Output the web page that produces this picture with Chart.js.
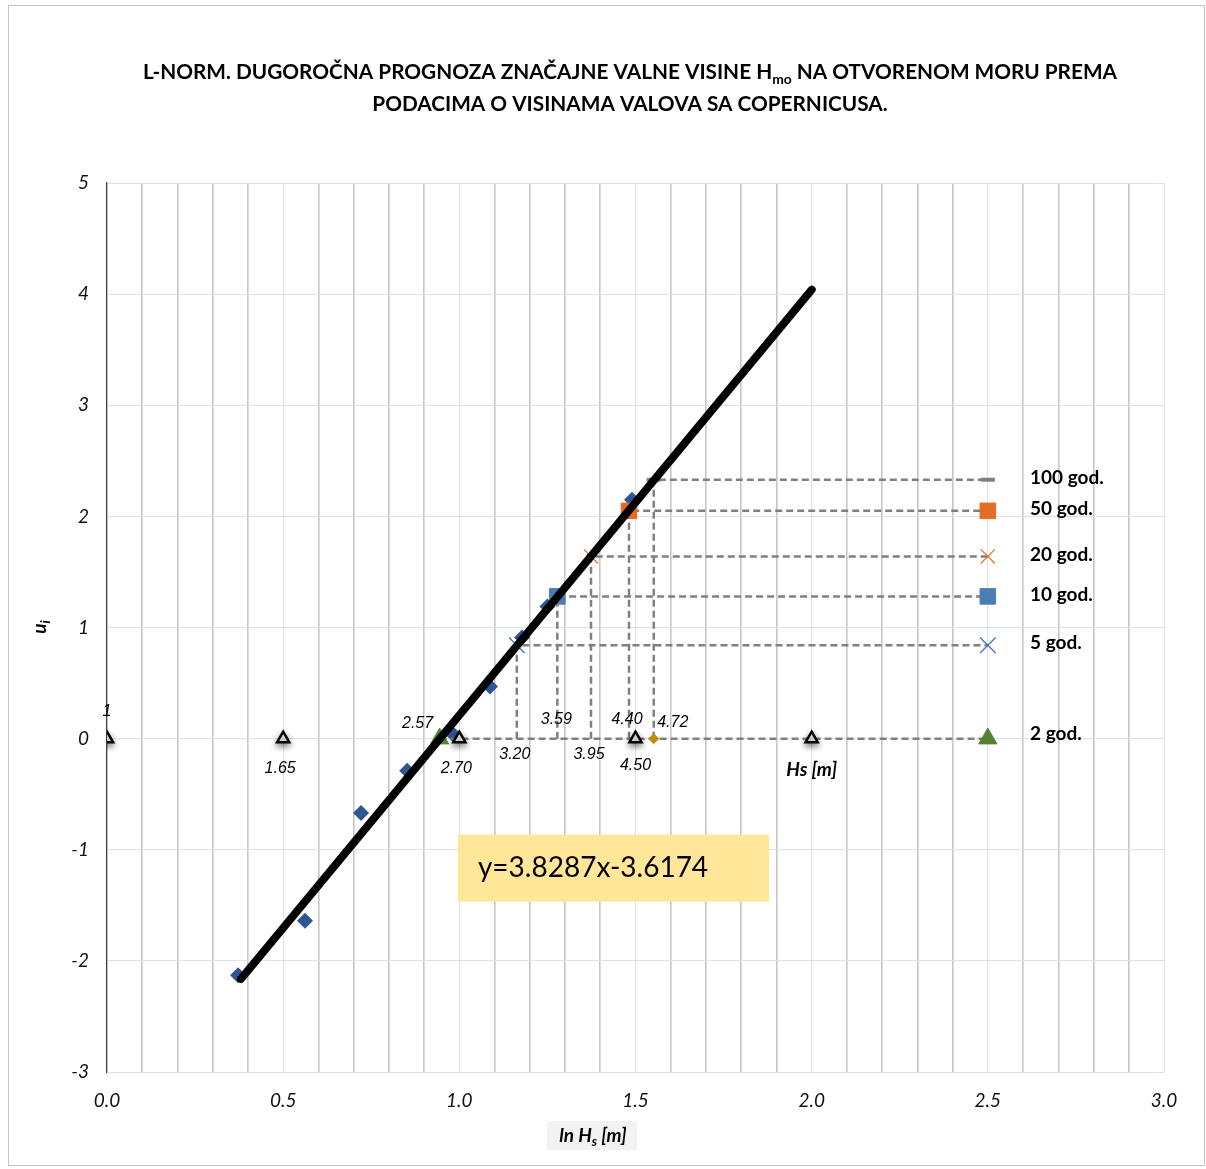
<!DOCTYPE html>
<html>
<head>
<meta charset="utf-8">
<title>L-NORM dugoročna prognoza</title>
<script src="https://cdn.jsdelivr.net/npm/chart.js@4.4.1/dist/chart.umd.min.js"></script>
<style>
  html, body { margin: 0; padding: 0; background: #fff; }
  .chart_box { position: relative; width: 1206px; height: 1169px; }
</style>
</head>
<body>
<div class="chart_box"><canvas id="lnorm-chart"></canvas></div>
<script>
// mjerene točke (ln Hs, u_i)
let lnHs = [0.372, 0.562, 0.721, 0.852, 0.982, 1.087, 1.178, 1.25, 1.49]
let ui = [-2.13, -1.64, -0.67, -0.29, 0.04, 0.47, 0.91, 1.19, 2.15]

// krajevi pravca trenda
let trendX = [0.38, 2.0]
let trendY = [-2.163, 4.040]
let trendText = 'y=3.8287x-3.6174'

// povratni periodi
let periodNames = ['2 god.', '5 god.', '10 god.', '20 god.', '50 god.', '100 god.']
let periodHs = [2.57, 3.20, 3.59, 3.95, 4.40, 4.72]
let periodU = [0, 0.84, 1.28, 1.64, 2.05, 2.33]
let legendX = 2.5

// oznake Hs na osi u = 0
let hsMarkX = [0, 0.5, 1.0, 1.5, 2.0]
let hsMarkLabels = ['1', '1.65', '2.70', '4.50', 'Hs [m]']

let xTickLabels = [0.0, 0.5, 1.0, 1.5, 2.0, 2.5, 3.0]
let yTickLabels = [-3, -2, -1, 0, 1, 2, 3, 4, 5]

let periodStyle = [
    { style: 'triangle', fill: '#548235', line: '#548235', r: 10.5, bw: 1 },
    { style: 'crossRot', fill: '#4472C4', line: '#4472C4', r: 11, bw: 1.3 },
    { style: 'rect', fill: '#4A7DB5', line: '#4A7DB5', r: 11, bw: 1 },
    { style: 'crossRot', fill: '#E0702A', line: '#E0702A', r: 10, bw: 1.2 },
    { style: 'rect', fill: '#E46C24', line: '#E46C24', r: 11, bw: 1 },
    { style: 'line', fill: '#7F7F7F', line: '#7F7F7F', r: 7, bw: 4 }
]
// pomaci natpisa (px) u odnosu na točku na u = 0
let periodLabelOffset = [[-22, -15], [-2, 16], [-1, -19], [-2, 16], [-2, -19], [19, -16]]
let hsMarkOffset = [[0, -27], [-3, 30], [-3, 30], [0, 27], [0, 31]]

let datasets = []
datasets.push({
    label: 'podaci',
    data: lnHs.map((x, i) => ({ x: x, y: ui[i] })),
    pointStyle: 'rectRot', pointRadius: 8,
    pointBackgroundColor: '#2F5597', pointBorderColor: '#2F5597', pointBorderWidth: 0,
    showLine: false, order: 4
})
datasets.push({
    label: 'trend',
    data: trendX.map((x, i) => ({ x: x, y: trendY[i] })),
    showLine: true, borderColor: '#000', borderWidth: 8, borderCapStyle: 'round',
    pointRadius: 0, fill: false, order: 0
})
periodHs.forEach((h, i) => {
    let x = Math.log(h)
    let u = periodU[i]
    let st = periodStyle[i]
    datasets.push({
        label: periodNames[i],
        data: [{ x: x, y: 0 }, { x: x, y: u }, { x: legendX, y: u }],
        showLine: true, fill: false,
        borderColor: '#808080', borderWidth: 2.5, borderDash: [7, 4],
        pointStyle: st.style, pointRadius: [0, st.r, st.r],
        pointBackgroundColor: st.fill, pointBorderColor: st.line, pointBorderWidth: st.bw,
        order: 3
    })
})
datasets.push({
    label: 'dno 100 god.',
    data: [{ x: Math.log(periodHs[5]), y: 0 }],
    pointStyle: 'rectRot', pointRadius: 5,
    pointBackgroundColor: '#BF9000', pointBorderColor: '#BF9000', order: 2
})
let markIndex = datasets.length
datasets.push({
    label: 'Hs',
    data: hsMarkX.map(x => ({ x: x, y: 0 })),
    pointStyle: 'triangle', pointRadius: 7,
    pointBackgroundColor: '#fff', pointBorderColor: '#000', pointBorderWidth: 2.5,
    order: 1
})

function richWidth(ctx, parts) {
    let w = 0
    parts.forEach(p => { ctx.font = p.font; p.w = ctx.measureText(p.t).width; w += p.w })
    return w
}
function drawRich(ctx, parts, cx, y, sx) {
    let w = richWidth(ctx, parts)
    ctx.save()
    ctx.translate(cx, y)
    ctx.scale(sx, 1)
    let px = -w / 2
    parts.forEach(p => {
        ctx.font = p.font
        ctx.fillText(p.t, px, p.dy || 0)
        px += p.w
    })
    ctx.restore()
}

const drawExtras = {
    id: 'drawExtras',
    beforeDraw(chart) {
        let ctx = chart.ctx
        ctx.save()
        ctx.fillStyle = '#fff'
        ctx.fillRect(0, 0, chart.width, chart.height)
        ctx.strokeStyle = '#c4c4c4'
        ctx.lineWidth = 1
        ctx.strokeRect(8.5, 5.5, 1196, 1160)
        ctx.restore()
    },
    beforeDatasetsDraw(chart) {
        let ctx = chart.ctx
        let xs = chart.scales.x, ys = chart.scales.y
        let x0 = xs.getPixelForValue(0.996), x1 = xs.getPixelForValue(1.879)
        let y0 = ys.getPixelForValue(-0.864), y1 = ys.getPixelForValue(-1.467)
        ctx.save()
        ctx.fillStyle = '#FFE699'
        ctx.fillRect(x0, y0, x1 - x0, y1 - y0)
        ctx.fillStyle = '#000'
        ctx.font = '28px Lato'
        ctx.textBaseline = 'middle'
        ctx.fillText(trendText, x0 + 20, (y0 + y1) / 2)
        ctx.restore()
    },
    beforeDatasetDraw(chart, args) {
        if (args.index === markIndex) {
            let ctx = chart.ctx
            ctx.save()
            ctx.shadowColor = 'rgba(0,0,0,0.45)'
            ctx.shadowBlur = 6
            ctx.shadowOffsetY = 3
        }
    },
    afterDatasetDraw(chart, args) {
        if (args.index === markIndex) chart.ctx.restore()
    },
    afterDatasetsDraw(chart) {
        let ctx = chart.ctx
        let xs = chart.scales.x, ys = chart.scales.y
        let yZero = ys.getPixelForValue(0)
        ctx.save()
        ctx.fillStyle = '#000'
        ctx.textAlign = 'center'
        ctx.textBaseline = 'middle'

        // Hs vrijednosti povratnih perioda
        ctx.font = 'italic 16px "Liberation Sans"'
        periodHs.forEach((h, i) => {
            let px = xs.getPixelForValue(Math.log(h))
            ctx.fillText(h.toFixed(2), px + periodLabelOffset[i][0], yZero + periodLabelOffset[i][1])
        })
        hsMarkX.forEach((x, i) => {
            let px = xs.getPixelForValue(x)
            ctx.font = i === hsMarkLabels.length - 1 ? 'italic bold 19px Lato' : 'italic 16px "Liberation Sans"'
            ctx.fillText(hsMarkLabels[i], px + hsMarkOffset[i][0], yZero + hsMarkOffset[i][1])
        })

        // nazivi perioda desno
        ctx.textAlign = 'left'
        ctx.font = 'bold 19px Lato'
        periodNames.forEach((n, i) => {
            let py = ys.getPixelForValue(periodU[i])
            ctx.fillText(n, 1030, py - (i === 0 ? 5 : 2))
        })
        ctx.restore()

        // naslov
        ctx.save()
        ctx.fillStyle = '#000'
        ctx.textBaseline = 'alphabetic'
        let tf = 'bold 21px Lato', sf = 'bold 14px Lato'
        let line1 = [
            { t: 'L-NORM. DUGOROČNA PROGNOZA ZNAČAJNE VALNE VISINE H', font: tf },
            { t: 'mo', font: sf, dy: 5 },
            { t: ' NA OTVORENOM MORU PREMA', font: tf }
        ]
        let line2 = [{ t: 'PODACIMA O VISINAMA VALOVA SA COPERNICUSA.', font: tf }]
        let sx = 974 / richWidth(ctx, line1)
        drawRich(ctx, line1, 630, 79, sx)
        drawRich(ctx, line2, 630, 111, sx)

        // naslov osi x
        ctx.fillStyle = '#F2F2F2'
        ctx.fillRect(547, 1121, 90, 29)
        ctx.fillStyle = '#000'
        let xt = [
            { t: 'ln H', font: 'italic bold 19px Lato' },
            { t: 's', font: 'italic bold 13px Lato', dy: 4 },
            { t: ' [m]', font: 'italic bold 19px Lato' }
        ]
        drawRich(ctx, xt, 593, 1142, 1)

        // naslov osi y
        ctx.translate(46, 627)
        ctx.rotate(-Math.PI / 2)
        let yt = [
            { t: 'u', font: 'italic bold 19px Lato' },
            { t: 'i', font: 'italic bold 13px Lato', dy: 4 }
        ]
        drawRich(ctx, yt, 0, 0, 1)
        ctx.restore()
    }
}

new Chart(document.getElementById('lnorm-chart'), {
    type: 'scatter',
    data: { datasets: datasets },
    options: {
        responsive: true,
        maintainAspectRatio: false,
        animation: false,
        layout: { padding: { top: 183, right: 42, left: 0, bottom: 0 } },
        plugins: {
            legend: { display: false },
            tooltip: { enabled: false },
            title: { display: false }
        },
        scales: {
            x: {
                type: 'linear', min: 0, max: 3,
                afterFit(s) { s.height = 97 },
                ticks: {
                    stepSize: 0.1, autoSkip: false, maxRotation: 0, padding: 17,
                    color: '#111', font: { family: 'Lato', size: 19, style: 'italic' },
                    callback: v => xTickLabels.some(t => Math.abs(t - v) < 1e-6) ? v.toFixed(1) : ''
                },
                grid: {
                    drawTicks: false,
                    color: c => Math.round(c.tick.value * 10) % 5 === 0 ? '#D9E1F2' : '#C6C6C6',
                    lineWidth: c => Math.round(c.tick.value * 10) % 5 === 0 ? 1 : 1.6
                },
                border: { display: false }
            },
            y: {
                min: -3, max: 5,
                afterFit(s) { s.width = 107 },
                ticks: {
                    stepSize: 1, padding: 18,
                    color: '#111', font: { family: 'Lato', size: 19, style: 'italic' },
                    callback: v => yTickLabels.includes(v) ? String(v) : ''
                },
                grid: { drawTicks: false, color: '#D9E1F2' },
                border: { display: true, color: '#404040', width: 1.2 }
            }
        }
    },
    plugins: [drawExtras]
})
</script>
</body>
</html>
